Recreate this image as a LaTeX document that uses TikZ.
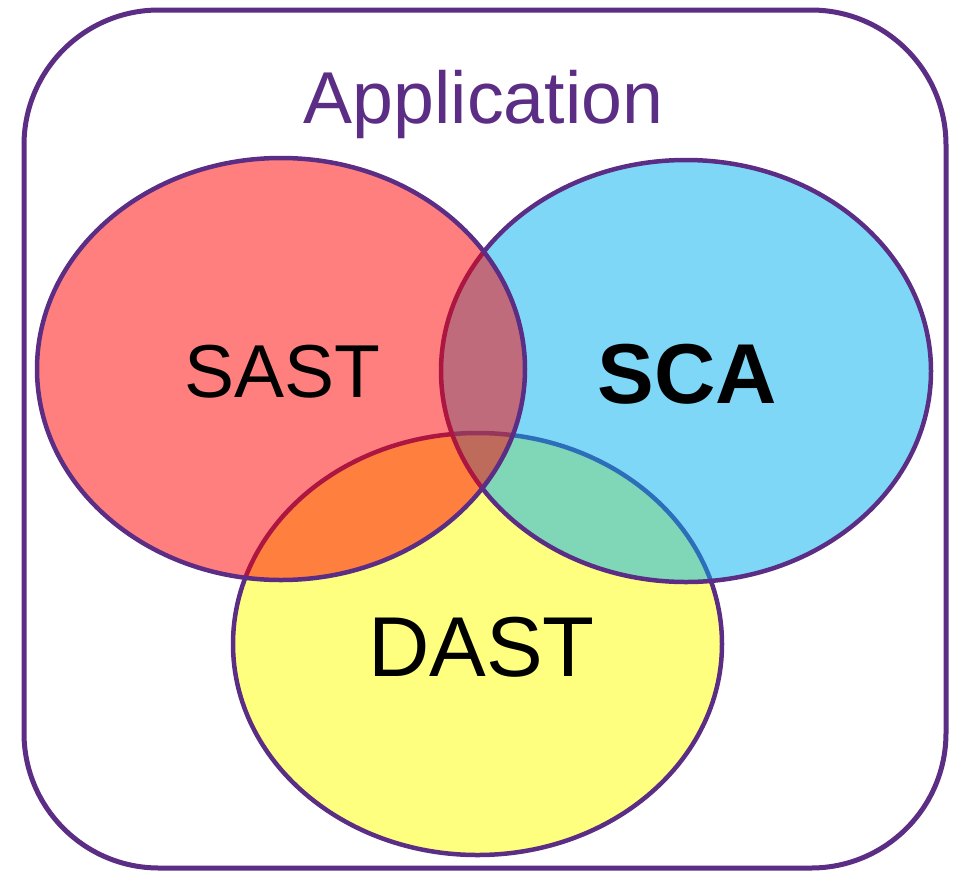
\documentclass[tikz,border=0pt]{standalone}
\usepackage{fontspec}
\setmainfont{Liberation Sans}
\definecolor{appviolet}{RGB}{91,45,132}
\definecolor{sastred}{RGB}{255,0,0}
\definecolor{scablue}{RGB}{0,176,240}
\definecolor{dastyellow}{RGB}{255,255,0}
\begin{document}
\begin{tikzpicture}[x=1pt,y=-1pt,
  setcircle/.style={draw=appviolet, line width=4.5pt, fill opacity=0.5, draw opacity=1},
  setlabel/.style={anchor=base, inner sep=0pt, text=black}]
  \useasboundingbox (0,0) rectangle (961,873);
  % application frame
  \draw[appviolet, line width=5pt, rounded corners=135pt] (24,10) rectangle (946,868);
  \node[setlabel, text=appviolet, font=\fontsize{73.5}{88}\selectfont] (app) at (483.5,123) {Application};
  % the three overlapping sets
  \draw[setcircle, fill=dastyellow] (477.5,644) ellipse [x radius=244.5, y radius=211];
  \draw[setcircle, fill=scablue] (686,371) ellipse [x radius=245, y radius=211];
  \draw[setcircle, fill=sastred] (281,369) ellipse [x radius=244, y radius=211];
  % set names
  \node[setlabel, font=\fontsize{75}{90}\selectfont] (sast) at (282.5,397) {SAST};
  \node[setlabel, font=\fontsize{85}{100}\selectfont\bfseries] (sca) at (687.5,403) {SCA};
  \node[setlabel, font=\fontsize{85}{100}\selectfont] (dast) at (481.5,676) {DAST};
\end{tikzpicture}
\end{document}
